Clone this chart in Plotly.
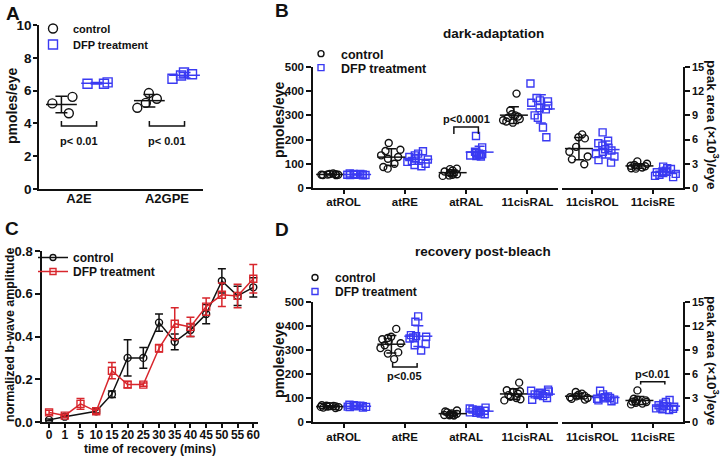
import numpy as np
import plotly.graph_objects as go

W, H = 726, 458


def fx(p):
    return p / W


def fy(p):
    return 1 - p / H


BLACK = '#111111'
BLUE = '#3a3af2'
RED = '#d8262c'
FONT = 'Arial, "Liberation Sans", sans-serif'

# ---------------- Panel A data (pmoles/eye) ----------------
a_cats = ['A2E', 'A2GPE']
a_ctrl = [[5.62, 5.22, 4.62], [5.85, 5.5, 5.25, 4.95]]
a_dfp = [[6.42, 6.5, 6.42], [6.72, 6.92, 7.1, 7.0]]
a_pvals = ['p< 0.01', 'p< 0.01']
a_bracket = [3.84, 4.15, 2.95]          # line level, tick end, text level

# ---------------- Panel B data: dark-adaptation ----------------
b_cats_left = ['atROL', 'atRE', 'atRAL', '11cisRAL']      # pmoles/eye
b_cats_right = ['11cisROL', '11cisRE']                    # peak area (x10^3)/eye
b_ctrl_left = [
    [58, 57, 56, 55, 55, 54, 53, 60],
    [186, 158, 153, 135, 128, 121, 100, 87, 80],
    [80, 78, 72, 68, 62, 60, 57, 55, 52, 50],
    [390, 320, 305, 300, 295, 290, 285, 280, 275, 270],
]
b_dfp_left = [
    [60, 58, 57, 56, 55, 55, 54, 53, 52, 58],
    [152, 142, 135, 128, 122, 118, 112, 108, 100, 95, 90],
    [215, 168, 150, 145, 142, 140, 138, 136, 134, 132, 130],
    [432, 372, 362, 358, 352, 340, 330, 325, 300, 290, 250, 210],
]
b_ctrl_right = [
    [6.65, 6.3, 6.15, 5.1, 4.5, 3.9, 3.55, 2.95],
    [3.3, 3.0, 2.85, 2.75, 2.7, 2.65, 2.55, 2.45, 2.4],
]
b_dfp_right = [
    [6.9, 5.85, 5.55, 5.25, 4.95, 4.8, 4.65, 4.5, 4.2, 3.9, 3.45, 3.15],
    [2.65, 2.45, 2.35, 2.15, 2.05, 1.95, 1.85, 1.75, 1.65, 1.5, 1.35],
]
b_pval = 'p<0.0001'
b_bracket = [252, 223, 285]

# ---------------- Panel C data: b-wave recovery ----------------
c_times = ['0', '1', '5', '10', '15', '20', '25', '30', '35', '40', '45', '50', '55', '60']
c_ctrl = [0.01, 0.025, None, 0.05, 0.13, 0.30, 0.30, 0.465, 0.375, 0.43, 0.505, 0.66, 0.59, 0.63]
c_ctrl_err = [0.004, 0.004, 0, 0.008, 0.015, 0.085, 0.048, 0.04, 0.037, 0.03, 0.045, 0.057, 0.045, 0.045]
c_dfp = [0.045, 0.03, 0.085, 0.05, 0.24, 0.175, 0.175, 0.345, 0.46, 0.445, 0.54, 0.595, 0.59, 0.67]
c_dfp_err = [0.01, 0.008, 0.025, 0.01, 0.038, 0.015, 0.008, 0.018, 0.075, 0.045, 0.04, 0.055, 0.055, 0.067]

# ---------------- Panel D data: recovery post-bleach ----------------
d_ctrl_left = [
    [70, 68, 67, 66, 65, 64, 63, 62, 60, 58],
    [388, 355, 350, 345, 335, 328, 320, 308, 290, 285, 262],
    [48, 44, 40, 36, 34, 32, 30, 29, 28, 27],
    [164, 132, 128, 125, 118, 112, 105, 100, 95, 90],
]
d_dfp_left = [
    [72, 70, 68, 67, 66, 65, 64, 63, 62, 60],
    [440, 418, 362, 358, 355, 352, 348, 325, 320, 298],
    [60, 56, 52, 50, 47, 45, 42, 40, 38, 35, 32],
    [135, 130, 127, 122, 118, 115, 112, 108, 100, 93],
]
d_ctrl_right = [
    [3.75, 3.55, 3.4, 3.3, 3.2, 3.1, 3.0, 2.9, 2.8],
    [3.95, 2.9, 2.8, 2.7, 2.6, 2.55, 2.5, 2.4, 2.3, 2.2],
]
d_dfp_right = [
    [3.9, 3.45, 3.2, 3.1, 3.0, 2.95, 2.9, 2.8, 2.7, 2.6],
    [2.75, 2.5, 2.3, 2.1, 2.0, 1.9, 1.8, 1.7, 1.65, 1.6, 1.5],
]
d_pval_left = 'p<0.05'
d_bracket_left = [229, 246, 192]
d_pval_right = 'p<0.01'
d_bracket_right = [5.04, 4.7, 5.96]

fig = go.Figure()

CTRL_OFF, DFP_OFF = -0.22, 0.22


def add_groups(groups, offset, color, symbol, xa, ya, msize, mean_w, cap, bw=0.36):
    xs, ys = [], []
    for i, vals in enumerate(groups):
        xs += [i + offset] * len(vals)
        ys += list(vals)
    fig.add_trace(go.Box(
        x=xs, y=ys, xaxis=xa, yaxis=ya, boxpoints='all', jitter=0.9, pointpos=0,
        width=bw, fillcolor='rgba(0,0,0,0)',
        line=dict(width=0, color='rgba(0,0,0,0)'),
        marker=dict(symbol=symbol, size=msize, color=color, line=dict(width=1.4, color=color)),
        hoverinfo='skip', showlegend=False))
    means = [float(np.mean(v)) for v in groups]
    sds = [float(np.std(v, ddof=1)) for v in groups]
    fig.add_trace(go.Scatter(
        x=[i + offset for i in range(len(groups))], y=means, xaxis=xa, yaxis=ya,
        mode='markers', cliponaxis=False,
        marker=dict(symbol='line-ew', size=mean_w, line=dict(width=1.5, color=color)),
        error_y=dict(type='data', array=sds, width=cap, thickness=1.5, color=color),
        hoverinfo='skip', showlegend=False))


def add_legend(leg_ctrl, leg_dfp, xa, ya, lines=False, dfp_color=BLUE, msize=7):
    mode = 'lines+markers' if lines else 'markers'
    fig.add_trace(go.Scatter(
        x=[None], y=[None], xaxis=xa, yaxis=ya, mode=mode, name='control',
        legend=leg_ctrl, line=dict(color=BLACK, width=1.5),
        marker=dict(symbol='circle-open', size=msize, color=BLACK, line=dict(width=1.4, color=BLACK))))
    fig.add_trace(go.Scatter(
        x=[None], y=[None], xaxis=xa, yaxis=ya, mode=mode, name='DFP treatment',
        legend=leg_dfp, line=dict(color=dfp_color, width=1.5),
        marker=dict(symbol='square-open', size=msize, color=dfp_color, line=dict(width=1.4, color=dfp_color))))


shapes, annotations = [], []


def bracket(xa, ya, x0, x1, level, tick_end, text_level, text, size=11):
    shapes.append(dict(type='path', xref=xa, yref=ya,
                       path=f'M {x0},{tick_end} L {x0},{level} L {x1},{level} L {x1},{tick_end}',
                       line=dict(color=BLACK, width=1.5)))
    annotations.append(dict(xref=xa, yref=ya, x=(x0 + x1) / 2, y=text_level, text=text,
                            showarrow=False, xanchor='center', yanchor='middle',
                            font=dict(size=size, color=BLACK, family=FONT, weight='bold')))


def text(x, y, s, size, angle=0, color=BLACK, xanchor='center'):
    annotations.append(dict(xref='paper', yref='paper', x=fx(x), y=fy(y), text=s,
                            showarrow=False, textangle=angle, xanchor=xanchor, yanchor='middle',
                            font=dict(size=size, color=color, family=FONT, weight='bold')))


# ---------- Panel A ----------
add_groups(a_ctrl, -0.2, BLACK, 'circle-open', 'x', 'y', 9, 22, 6)
add_groups(a_dfp, 0.2, BLUE, 'square-open', 'x', 'y', 9, 22, 6)
add_legend('legend', 'legend5', 'x', 'y', msize=9)
for i, p in enumerate(a_pvals):
    bracket('x', 'y', i - 0.2, i + 0.2, a_bracket[0], a_bracket[1], a_bracket[2], p, 11)

# ---------- Panel B ----------
add_groups(b_ctrl_left, CTRL_OFF, BLACK, 'circle-open', 'x2', 'y2', 7, 20, 5, 0.42)
add_groups(b_dfp_left, DFP_OFF, BLUE, 'square-open', 'x2', 'y2', 7, 20, 5, 0.42)
add_groups(b_ctrl_right, CTRL_OFF, BLACK, 'circle-open', 'x3', 'y3', 7, 20, 5, 0.42)
add_groups(b_dfp_right, DFP_OFF, BLUE, 'square-open', 'x3', 'y3', 7, 20, 5, 0.42)
add_legend('legend2', 'legend6', 'x2', 'y2', msize=6)
ib = b_cats_left.index('atRAL')
bracket('x2', 'y2', ib - 0.2, ib + 0.2, b_bracket[0], b_bracket[1], b_bracket[2], b_pval, 11)

# ---------- Panel C ----------
fig.add_trace(go.Scatter(
    x=c_times, y=c_ctrl, xaxis='x4', yaxis='y4', mode='lines+markers', connectgaps=True,
    cliponaxis=False, line=dict(color=BLACK, width=1.5),
    marker=dict(symbol='circle-open', size=7, color=BLACK, line=dict(width=1.4, color=BLACK)),
    error_y=dict(type='data', array=c_ctrl_err, width=4, thickness=1.5, color=BLACK),
    showlegend=False, hoverinfo='skip'))
fig.add_trace(go.Scatter(
    x=c_times, y=c_dfp, xaxis='x4', yaxis='y4', mode='lines+markers', connectgaps=True,
    cliponaxis=False, line=dict(color=RED, width=1.5),
    marker=dict(symbol='square-open', size=7, color=RED, line=dict(width=1.4, color=RED)),
    error_y=dict(type='data', array=c_dfp_err, width=4, thickness=1.5, color=RED),
    showlegend=False, hoverinfo='skip'))
add_legend('legend3', 'legend7', 'x4', 'y4', lines=True, dfp_color=RED, msize=6)

# ---------- Panel D ----------
add_groups(d_ctrl_left, CTRL_OFF, BLACK, 'circle-open', 'x5', 'y5', 7, 20, 5, 0.42)
add_groups(d_dfp_left, DFP_OFF, BLUE, 'square-open', 'x5', 'y5', 7, 20, 5, 0.42)
add_groups(d_ctrl_right, CTRL_OFF, BLACK, 'circle-open', 'x6', 'y6', 7, 20, 5, 0.42)
add_groups(d_dfp_right, DFP_OFF, BLUE, 'square-open', 'x6', 'y6', 7, 20, 5, 0.42)
add_legend('legend4', 'legend8', 'x5', 'y5', msize=6)
idl = b_cats_left.index('atRE')
bracket('x5', 'y5', idl - 0.2, idl + 0.2, d_bracket_left[0], d_bracket_left[1], d_bracket_left[2], d_pval_left, 11)
idr = b_cats_right.index('11cisRE')
bracket('x6', 'y6', idr - 0.2, idr + 0.2, d_bracket_right[0], d_bracket_right[1], d_bracket_right[2], d_pval_right, 11)

# ---------- texts ----------
text(13, 13, 'A', 19)
text(282, 10, 'B', 19)
text(12, 228, 'C', 19)
text(282, 229, 'D', 19)
text(12, 106, 'pmoles/eye', 14, angle=-90)
text(279, 120, 'pmoles/eye', 14, angle=-90)
text(713, 125, 'peak area (\u00d710<sup>3</sup>)/eye', 13.5, angle=90)
text(493, 33, 'dark-adaptation', 13.5)
text(10, 335, 'normalized b-wave amplitude', 12.5, angle=-90)
text(150, 449, 'time of recovery (mins)', 12)
text(279, 360, 'pmoles/eye', 14, angle=-90)
text(713, 361, 'peak area (\u00d710<sup>3</sup>)/eye', 13.5, angle=90)
text(483, 252, 'recovery post-bleach', 13.5)

AX = dict(showline=True, linecolor=BLACK, linewidth=1.5, ticks='outside', ticklen=5,
          tickwidth=1.5, tickcolor=BLACK, showgrid=False, zeroline=False, fixedrange=True,
          tickangle=0)


def tf(size):
    return dict(size=size, color=BLACK, family=FONT, weight='bold')


# panel geometry (pixels)
BX0, BX1, BX2, BX3 = 313, 558, 562, 683

layout_axes = dict(
    xaxis=dict(AX, domain=[fx(39), fx(203)], range=[-0.455, 1.41], anchor='y',
               tickvals=[0, 1], ticktext=a_cats, ticks='', tickfont=tf(13), ticklabelstandoff=-3),
    yaxis=dict(AX, domain=[fy(189), fy(25)], range=[0, 10], dtick=2, anchor='x', tickfont=tf(13.5),
               ticklen=4, ticklabelstandoff=-1),
    xaxis2=dict(AX, domain=[fx(BX0), fx(BX1)], range=[-0.5, 3.5], anchor='y2',
                tickvals=list(range(4)), ticktext=b_cats_left, tickfont=tf(11.5), ticklen=4,
                ticklabelstandoff=-2),
    yaxis2=dict(AX, domain=[fy(188), fy(67)], range=[0, 500], dtick=100, anchor='x2', tickfont=tf(11.5)),
    xaxis3=dict(AX, domain=[fx(BX2), fx(BX3)], range=[-0.5, 1.5], anchor='y3',
                tickvals=list(range(2)), ticktext=b_cats_right, tickfont=tf(11.5), ticklen=4,
                ticklabelstandoff=-2),
    yaxis3=dict(AX, domain=[fy(188), fy(67)], range=[0, 15], dtick=3, anchor='x3', side='right',
                tickfont=tf(11)),
    xaxis4=dict(AX, domain=[fx(42), fx(258)], type='category', range=[-0.45, 13.3], anchor='y4',
                tickfont=tf(12), ticklen=4, ticklabelstandoff=-3),
    yaxis4=dict(AX, domain=[fy(422), fy(251)], range=[0, 0.8], dtick=0.2, tickformat='.1f',
                anchor='x4', tickfont=tf(13)),
    xaxis5=dict(AX, domain=[fx(BX0), fx(BX1)], range=[-0.5, 3.5], anchor='y5',
                tickvals=list(range(4)), ticktext=b_cats_left, tickfont=tf(11.5), ticklen=4,
                ticklabelstandoff=-1),
    yaxis5=dict(AX, domain=[fy(422), fy(302)], range=[0, 500], dtick=100, anchor='x5', tickfont=tf(11.5)),
    xaxis6=dict(AX, domain=[fx(BX2), fx(BX3)], range=[-0.5, 1.5], anchor='y6',
                tickvals=list(range(2)), ticktext=b_cats_right, tickfont=tf(11.5), ticklen=4,
                ticklabelstandoff=-1),
    yaxis6=dict(AX, domain=[fy(422), fy(302)], range=[0, 15], dtick=3, anchor='x6', side='right',
                tickfont=tf(11)),
)

LEG = dict(xanchor='left', yanchor='top', bgcolor='rgba(0,0,0,0)', borderwidth=0,
           tracegroupgap=0)


def leg(x, y, size):
    return dict(LEG, x=fx(x), y=fy(y), font=dict(size=size, color=BLACK, family=FONT, weight='bold'))


fig.update_layout(
    width=W, height=H, margin=dict(l=0, r=0, t=0, b=0, pad=0, autoexpand=False),
    paper_bgcolor='white', plot_bgcolor='white',
    font=dict(family=FONT, color=BLACK, weight='bold'),
    boxmode='overlay', boxgap=0, boxgroupgap=0,
    shapes=shapes, annotations=annotations,
    legend=leg(33, 14, 11), legend5=leg(33, 30, 11),
    legend2=leg(301, 39, 12.5), legend6=leg(301, 53, 12.5),
    legend3=leg(33, 243, 12), legend7=leg(33, 257, 12),
    legend4=leg(295, 263, 12), legend8=leg(295, 277, 12),
    **layout_axes,
)

fig.write_html('out.html', config={'displayModeBar': False},
               post_script="document.body.style.margin='0';document.body.style.overflow='hidden';")
